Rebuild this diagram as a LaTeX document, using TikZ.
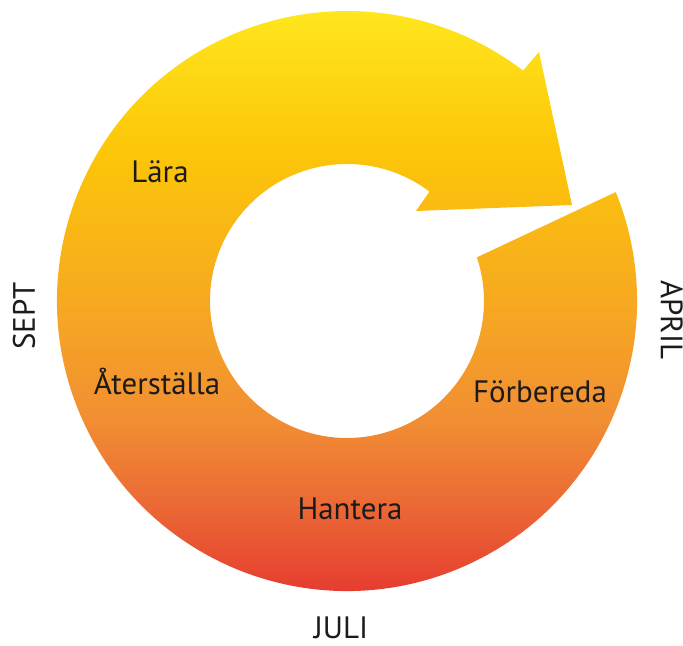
\documentclass[tikz,border=0pt]{standalone}
\usepackage{fontspec}
\setmainfont{PT Sans}
\definecolor{ctop}{HTML}{FFEA20}
\definecolor{c5}{HTML}{FCC708}
\definecolor{c4}{HTML}{F6A722}
\definecolor{c3}{HTML}{F18E33}
\definecolor{c2}{HTML}{EB6A35}
\definecolor{cbot}{HTML}{E3292D}
\definecolor{txt}{HTML}{1C1A1A}
\pgfdeclareverticalshading{ringshade}{100bp}{color(0bp)=(cbot); color(25bp)=(cbot); color(35bp)=(c2); color(41.5bp)=(c3); color(50bp)=(c4); color(63bp)=(c5); color(75bp)=(ctop); color(100bp)=(ctop)}
\begin{document}
\begin{tikzpicture}[x=0.75pt,y=0.75pt,
  lbl/.style={font=\fontsize{23.2}{27}\selectfont, text=txt, inner sep=0pt, anchor=base}]
\useasboundingbox (-347,-345) rectangle (336,301);
% ring arrow
\path[shading=ringshade]
  (22.06:290) arc[start angle=22.06, end angle=-307.4, radius=290]
  -- (192,249) -- (225,96) -- (69,90)
  -- (-307:137) arc[start angle=-307, end angle=18.57, radius=137]
  -- cycle;
% labels
\node[lbl] (lara) at (-187,118) {Lära};
\node[lbl] (aterstalla) at (-190,-94) {Återställa};
\node[lbl] (forbereda) at (193,-102) {Förbereda};
\node[lbl] (hantera) at (3,-219) {Hantera};
\node[lbl] (juli) at (-6,-337) {JULI};
\node[lbl, rotate=90] (sept) at (-312,-15) {SEPT};
\node[lbl, rotate=-90] (april) at (314,-19) {APRIL};
\end{tikzpicture}
\end{document}
